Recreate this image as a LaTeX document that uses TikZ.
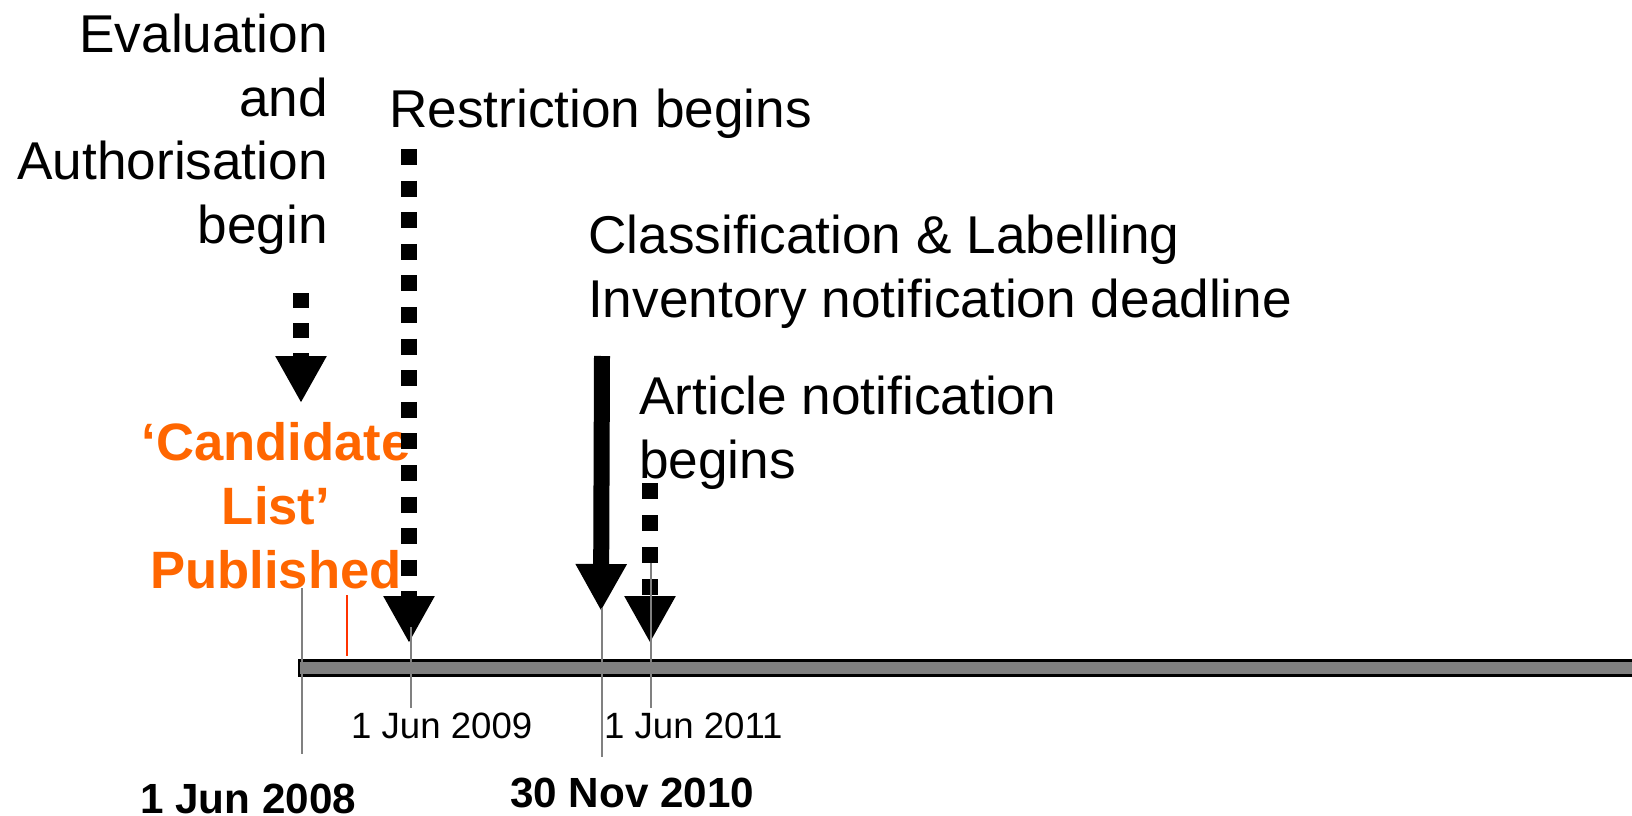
\documentclass[tikz,border=0pt]{standalone}
\usepackage{fontspec}
\setmainfont{Liberation Sans}
\usetikzlibrary{arrows.meta}

\definecolor{listorange}{RGB}{255,102,0}
\definecolor{markred}{RGB}{255,51,0}
\definecolor{bargray}{RGB}{128,128,128}
\definecolor{tickgray}{RGB}{128,128,128}

\tikzset{
  caption/.style={inner sep=0pt, font=\fontsize{53.2}{63.5}\selectfont},
  listlabel/.style={inner sep=0pt, text=listorange, align=center,
    font=\fontsize{52.6}{64}\selectfont\bfseries},
  bigdate/.style={inner sep=0pt, anchor=base west, font=\fontsize{42.2}{48}\selectfont\bfseries},
  smalldate/.style={inner sep=0pt, anchor=base west, font=\fontsize{36.6}{42}\selectfont},
  datetick/.style={draw=tickgray, line width=2pt},
  headtip/.style={-{Triangle[width=48pt,length=47pt]}},
  milestone/.style={headtip, line width=16pt},
  dashedmilestone/.style={milestone, dash pattern=on 16pt off 15.6pt},
}

\begin{document}
\begin{tikzpicture}[x=1pt, y=-1pt]
\useasboundingbox (0,0) rectangle (1632,816);

% time line bar (runs off the right edge)
\draw[line width=2.5pt, fill=bargray] (299,660.5) rectangle (1660,675.5);

% captions (multi-line nodes are anchored at the baseline of their last line)
\node[caption, anchor=base east, align=right] (evalcap) at (328,243)
  {Evaluation\\and\\Authorisation\\begin};
\node[caption, anchor=base west] (restrcap) at (389,127) {Restriction begins};
\node[caption, anchor=base west, align=left] (classcap) at (588,317)
  {Classification \& Labelling\\Inventory notification deadline};
\node[caption, anchor=base west, align=left] (artcap) at (639,478)
  {Article notification\\begins};
\node[listlabel, anchor=base] (listcap) at (276,588)
  {‘Candidate\\List’\\Published};

% milestone arrows
\coordinate (evalStart) at (301,293);
\coordinate (evalTip) at (301,403);
\draw[dashedmilestone, dash pattern=on 15pt off 15pt] (evalStart) -- (evalTip);

\coordinate (restrStart) at (409,149);
\coordinate (restrTip) at (409,643);
\draw[dashedmilestone] (restrStart) -- (restrTip);

\coordinate (classStart) at (602,356);
\coordinate (classTip) at (601,611);
\draw[milestone] (classStart) -- (classTip);

\coordinate (artStart) at (650,483);
\coordinate (artTip) at (650,643);
\draw[dashedmilestone, dash pattern=on 16pt off 16pt] (artStart) -- (artTip);

% date labels
\node[bigdate] (d2008) at (140,813) {1 Jun 2008};
\node[smalldate] (d2009) at (351,738) {1 Jun 2009};
\node[bigdate] (d2010) at (510,807) {30 Nov 2010};
\node[smalldate] (d2011) at (604,738) {1 Jun 2011};

% date ticks
\coordinate (t2008a) at (302,588);  \coordinate (t2008b) at (302,754);
\coordinate (t2009a) at (411,627);  \coordinate (t2009b) at (411,708);
\coordinate (t2010a) at (602,608);  \coordinate (t2010b) at (602,757);
\coordinate (t2011a) at (651,563);  \coordinate (t2011b) at (651,708);
\draw[datetick] (t2008a) -- (t2008b);
\draw[datetick] (t2009a) -- (t2009b);
\draw[datetick] (t2010a) -- (t2010b);
\draw[datetick] (t2011a) -- (t2011b);

% candidate list publication mark
\coordinate (pubA) at (347,595);
\coordinate (pubB) at (347,656);
\draw[draw=markred, line width=2pt] (pubA) -- (pubB);
\end{tikzpicture}
\end{document}
